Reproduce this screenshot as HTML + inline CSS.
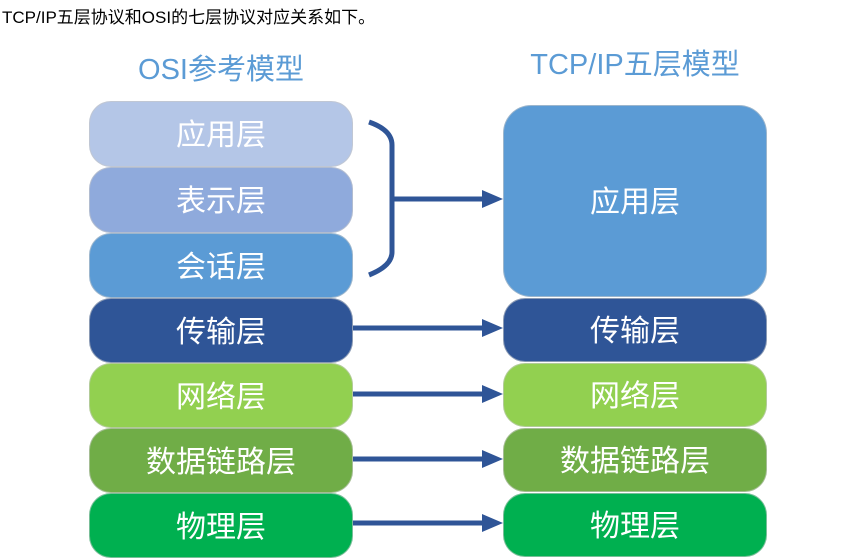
<!DOCTYPE html>
<html><head><meta charset="utf-8"><style>
body{margin:0;width:846px;height:559px;background:#fff;position:relative;overflow:hidden;font-family:"Liberation Sans","Noto Sans CJK SC",sans-serif}
.t{position:absolute;left:2px;top:3px;font-size:17px;color:#000}
.h{position:absolute;color:#5b9bd5;font-size:29px;text-align:center}
.b{position:absolute;border-radius:22px;color:#fff;font-size:30px;display:flex;align-items:center;justify-content:center;box-sizing:border-box;border:1px solid rgba(200,200,200,.6);padding-bottom:4px}
</style></head><body>
<div class="t">TCP/IP五层协议和OSI的七层协议对应关系如下。</div>
<div class="h" style="left:89px;width:264px;top:46px">OSI参考模型</div>
<div class="h" style="left:503px;width:264px;top:41px">TCP/IP五层模型</div>
<div class="b" style="left:89px;top:101px;width:264px;height:66px;background:#b4c6e7">应用层</div>
<div class="b" style="left:89px;top:167px;width:264px;height:66px;background:#8faadc">表示层</div>
<div class="b" style="left:89px;top:233px;width:264px;height:65px;background:#5b9bd5">会话层</div>
<div class="b" style="left:89px;top:298px;width:264px;height:65px;background:#2f5597">传输层</div>
<div class="b" style="left:89px;top:363px;width:264px;height:65px;background:#92d050">网络层</div>
<div class="b" style="left:89px;top:428px;width:264px;height:65px;background:#70ad47">数据链路层</div>
<div class="b" style="left:89px;top:493px;width:264px;height:65px;background:#00b050">物理层</div>
<div class="b" style="left:503px;top:105px;width:264px;height:192px;background:#5b9bd5;border-radius:28px">应用层</div>
<div class="b" style="left:503px;top:298px;width:264px;height:64px;background:#2f5597">传输层</div>
<div class="b" style="left:503px;top:363px;width:264px;height:64px;background:#92d050">网络层</div>
<div class="b" style="left:503px;top:428px;width:264px;height:64px;background:#70ad47">数据链路层</div>
<div class="b" style="left:503px;top:493px;width:264px;height:64px;background:#00b050">物理层</div>
<svg width="846" height="559" style="position:absolute;left:0;top:0">
<g stroke="#2f5597" stroke-width="5" fill="none">
<path d="M369 122 Q392 130 392 145 L392 252 Q392 266 369 275"/>
<line x1="392" y1="199" x2="482" y2="199"/>
<line x1="353" y1="328" x2="484" y2="328"/>
<line x1="353" y1="394" x2="484" y2="394"/>
<line x1="353" y1="459" x2="484" y2="459"/>
<line x1="353" y1="523" x2="484" y2="523"/>
</g>
<g fill="#2f5597">
<polygon points="503,199 482,190 482,208"/>
<polygon points="503,328 482,319 482,337"/>
<polygon points="503,394 482,385 482,403"/>
<polygon points="503,459 482,450 482,468"/>
<polygon points="503,523 482,514 482,532"/>
</g>
</svg>
</body></html>
